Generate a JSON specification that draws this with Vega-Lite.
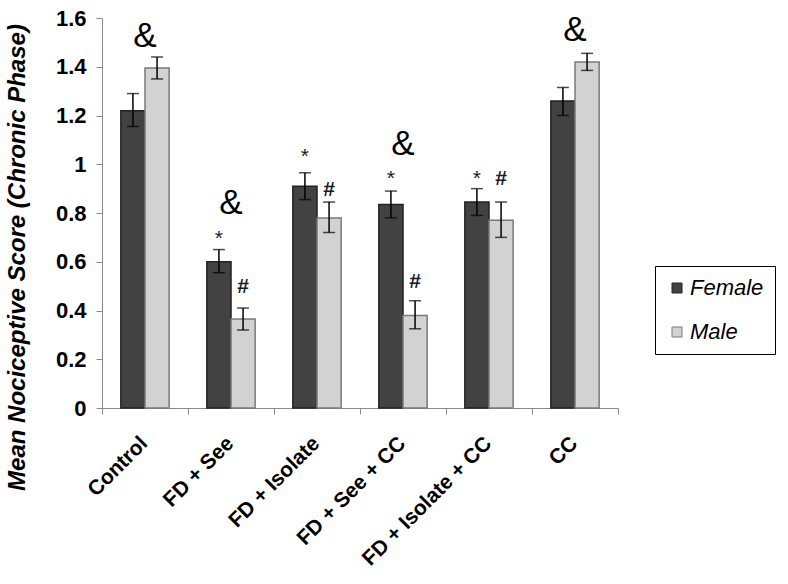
{
  "$schema": "https://vega.github.io/schema/vega-lite/v6.json",
  "autosize": {"type": "none"},
  "padding": {"left": 102, "top": 18, "right": 170, "bottom": 176},
  "width": 516,
  "height": 390,
  "background": "white",
  "config": {
    "view": {"stroke": null},
    "font": "Liberation Sans",
    "axis": {"domainColor": "#8a8a8a", "tickColor": "#8a8a8a", "grid": false, "labelColor": "black", "labelFontWeight": "bold"}
  },
  "datasets": {
    "bars": [
      {"group": "Control", "sex": "Female", "mean": 1.22, "lo": 1.155, "hi": 1.29},
      {"group": "Control", "sex": "Male", "mean": 1.395, "lo": 1.35, "hi": 1.44},
      {"group": "FD + See", "sex": "Female", "mean": 0.60, "lo": 0.555, "hi": 0.65},
      {"group": "FD + See", "sex": "Male", "mean": 0.365, "lo": 0.32, "hi": 0.41},
      {"group": "FD + Isolate", "sex": "Female", "mean": 0.91, "lo": 0.855, "hi": 0.965},
      {"group": "FD + Isolate", "sex": "Male", "mean": 0.78, "lo": 0.72, "hi": 0.845},
      {"group": "FD + See + CC", "sex": "Female", "mean": 0.835, "lo": 0.78, "hi": 0.89},
      {"group": "FD + See + CC", "sex": "Male", "mean": 0.38, "lo": 0.325, "hi": 0.44},
      {"group": "FD + Isolate + CC", "sex": "Female", "mean": 0.845, "lo": 0.79, "hi": 0.90},
      {"group": "FD + Isolate + CC", "sex": "Male", "mean": 0.77, "lo": 0.70, "hi": 0.845},
      {"group": "CC", "sex": "Female", "mean": 1.26, "lo": 1.2, "hi": 1.315},
      {"group": "CC", "sex": "Male", "mean": 1.42, "lo": 1.385, "hi": 1.455}
    ],
    "marks": [
      {"group": "FD + See", "sex": "Female", "label": "*", "y": 0.71},
      {"group": "FD + See", "sex": "Male", "label": "#", "y": 0.50},
      {"group": "FD + Isolate", "sex": "Female", "label": "*", "y": 1.045},
      {"group": "FD + Isolate", "sex": "Male", "label": "#", "y": 0.90},
      {"group": "FD + See + CC", "sex": "Female", "label": "*", "y": 0.955},
      {"group": "FD + See + CC", "sex": "Male", "label": "#", "y": 0.52},
      {"group": "FD + Isolate + CC", "sex": "Female", "label": "*", "y": 0.955},
      {"group": "FD + Isolate + CC", "sex": "Male", "label": "#", "y": 0.945}
    ],
    "amps": [
      {"group": "Control", "label": "&", "y": 1.53},
      {"group": "FD + See", "label": "&", "y": 0.845},
      {"group": "FD + See + CC", "label": "&", "y": 1.087},
      {"group": "CC", "label": "&", "y": 1.555}
    ]
  },
  "encoding": {
    "x": {
      "field": "group", "type": "nominal",
      "sort": ["Control", "FD + See", "FD + Isolate", "FD + See + CC", "FD + Isolate + CC", "CC"],
      "scale": {"paddingInner": 0, "paddingOuter": 0},
      "axis": {"title": null, "labelAngle": -45, "labelAlign": "right", "labelBaseline": "middle", "labelFontSize": 21, "labelLimit": 400, "tickBand": "extent", "tickSize": 6, "labelPadding": 26, "labelOffset": -1}
    }
  },
  "layer": [
    {
      "data": {"name": "bars"},
      "mark": {"type": "bar", "strokeWidth": 1.5},
      "encoding": {
        "xOffset": {"field": "sex", "type": "nominal", "scale": {"paddingOuter": 0.78, "paddingInner": 0}},
        "y": {
          "field": "mean", "type": "quantitative",
          "scale": {"domain": [0, 1.6]},
          "axis": {"title": "Mean Nociceptive Score (Chronic Phase)", "titleFontStyle": "italic", "titleFontWeight": "bold", "titleFontSize": 24, "titleColor": "black", "titleX": -85, "titleY": 239, "titleAngle": -90, "titleBaseline": "middle", "titleAlign": "center", "format": "~g", "tickCount": 8, "labelFontSize": 22, "tickSize": 6, "labelPadding": 10}
        },
        "fill": {
          "field": "sex", "type": "nominal",
          "scale": {"domain": ["Female", "Male"], "range": ["#424242", "#d2d2d2"]},
          "legend": {"title": null, "orient": "none", "legendX": 553, "legendY": 248, "strokeColor": "black", "padding": 11, "symbolType": "square", "symbolSize": 100, "symbolStrokeColor": "#777", "symbolStrokeWidth": 1, "labelFontSize": 22, "labelFontStyle": "italic", "labelColor": "black", "rowPadding": 22, "labelOffset": 2, "symbolOpacity": 1}
        },
        "stroke": {
          "field": "sex", "type": "nominal",
          "scale": {"domain": ["Female", "Male"], "range": ["#222222", "#7a7a7a"]},
          "legend": null
        }
      }
    },
    {
      "data": {"name": "bars"},
      "mark": {"type": "rule", "color": "black", "strokeWidth": 1.5},
      "encoding": {
        "xOffset": {"field": "sex", "type": "nominal", "scale": {"paddingOuter": 0.78, "paddingInner": 0}},
        "y": {"field": "lo", "type": "quantitative"},
        "y2": {"field": "hi"}
      }
    },
    {
      "data": {"name": "bars"},
      "mark": {"type": "tick", "color": "black", "thickness": 1.5, "size": 12, "orient": "horizontal"},
      "encoding": {
        "xOffset": {"field": "sex", "type": "nominal", "scale": {"paddingOuter": 0.78, "paddingInner": 0}},
        "y": {"field": "lo", "type": "quantitative"}
      }
    },
    {
      "data": {"name": "bars"},
      "mark": {"type": "tick", "color": "black", "thickness": 1.5, "size": 12, "orient": "horizontal"},
      "encoding": {
        "xOffset": {"field": "sex", "type": "nominal", "scale": {"paddingOuter": 0.78, "paddingInner": 0}},
        "y": {"field": "hi", "type": "quantitative"}
      }
    },
    {
      "data": {"name": "marks"},
      "transform": [{"filter": "datum.label === '*'"}],
      "mark": {"type": "text", "fontSize": 21, "color": "#1a1a2a", "baseline": "middle", "dy": 4},
      "encoding": {
        "xOffset": {"field": "sex", "type": "nominal", "scale": {"paddingOuter": 0.78, "paddingInner": 0}},
        "y": {"field": "y", "type": "quantitative"},
        "text": {"field": "label"}
      }
    },
    {
      "data": {"name": "marks"},
      "transform": [{"filter": "datum.label === '#'"}],
      "mark": {"type": "text", "fontSize": 21, "fontWeight": "bold", "color": "#1a1a2a", "baseline": "middle", "dy": 1},
      "encoding": {
        "xOffset": {"field": "sex", "type": "nominal", "scale": {"paddingOuter": 0.78, "paddingInner": 0}},
        "y": {"field": "y", "type": "quantitative"},
        "text": {"field": "label"}
      }
    },
    {
      "data": {"name": "amps"},
      "mark": {"type": "text", "fontSize": 35, "color": "black", "baseline": "middle", "dy": 1},
      "encoding": {
        "y": {"field": "y", "type": "quantitative"},
        "text": {"field": "label"}
      }
    }
  ]
}
